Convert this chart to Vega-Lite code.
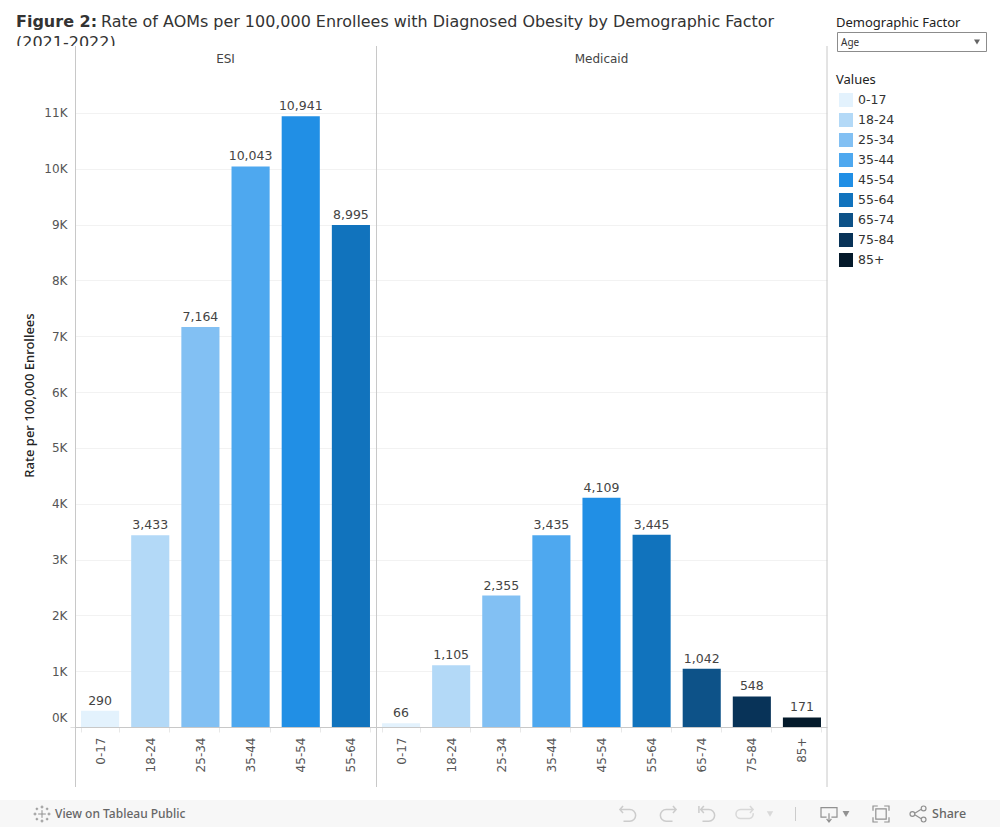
{
"$schema":"https://vega.github.io/schema/vega-lite/v6.json",
"padding":0,
"background":"white",
"bounds":"flush",
"spacing":0,
"config":{"view":{"stroke":null},"font":"DejaVu Sans"},
"datasets":{"rates":[
{"payer":"ESI","age":"0-17","rate":290},{"payer":"ESI","age":"18-24","rate":3433},{"payer":"ESI","age":"25-34","rate":7164},{"payer":"ESI","age":"35-44","rate":10043},{"payer":"ESI","age":"45-54","rate":10941},{"payer":"ESI","age":"55-64","rate":8995},
{"payer":"Medicaid","age":"0-17","rate":66},{"payer":"Medicaid","age":"18-24","rate":1105},{"payer":"Medicaid","age":"25-34","rate":2355},{"payer":"Medicaid","age":"35-44","rate":3435},{"payer":"Medicaid","age":"45-54","rate":4109},{"payer":"Medicaid","age":"55-64","rate":3445},{"payer":"Medicaid","age":"65-74","rate":1042},{"payer":"Medicaid","age":"75-84","rate":548},{"payer":"Medicaid","age":"85+","rate":171}
]},
"vconcat":[
{"width":1000,"height":46,"data":{"values":[{}]},"layer":[
{"mark":{"type":"rect","fill":"#f7f7f7"},"encoding":{"x":{"value":0},"x2":{"value":1000},"y":{"value":800},"y2":{"value":827}}},
{"mark":{"type":"text","align":"left","baseline":"alphabetic","fontSize":16,"fontWeight":"bold","fill":"#333","text":"Figure 2:"},"encoding":{"x":{"value":16},"y":{"value":27}}},
{"mark":{"type":"text","align":"left","baseline":"alphabetic","fontSize":15.95,"fill":"#333","text":"Rate of AOMs per 100,000 Enrollees with Diagnosed Obesity by Demographic Factor"},"encoding":{"x":{"value":101},"y":{"value":27}}},
{"mark":{"type":"text","align":"left","baseline":"alphabetic","fontSize":16,"fill":"#333","clip":true,"text":"(2021-2022)"},"encoding":{"x":{"value":16},"y":{"value":48}}},
{"mark":{"type":"text","align":"left","baseline":"alphabetic","font":"Noto Sans","fontSize":13,"fill":"#222","text":"Demographic Factor"},"encoding":{"x":{"value":836},"y":{"value":27}}},
{"mark":{"type":"rect","fill":"white","stroke":"#8c8c8c","strokeWidth":1},"encoding":{"x":{"value":837.5},"x2":{"value":986.5},"y":{"value":32.5},"y2":{"value":51.5}}},
{"mark":{"type":"text","align":"left","baseline":"alphabetic","font":"Noto Sans","fontSize":10,"fill":"#333","text":"Age"},"encoding":{"x":{"value":841},"y":{"value":46}}},
{"mark":{"type":"point","shape":"triangle-down","filled":true,"fill":"#222","size":36,"strokeWidth":0},"encoding":{"x":{"value":977},"y":{"value":42}}},
{"mark":{"type":"text","align":"left","baseline":"middle","font":"Noto Sans","fontSize":12,"fontWeight":500,"fill":"#666","text":"View on Tableau Public"},"encoding":{"x":{"value":55},"y":{"value":814}}},
{"mark":{"type":"text","align":"left","baseline":"middle","font":"Noto Sans","fontSize":12.5,"fontWeight":500,"fill":"#666","text":"Share"},"encoding":{"x":{"value":932},"y":{"value":814}}},
{"mark":{"type":"point","shape":"M-.45,0H.45M0,-.45V.45M0,-1V-.65M-.17,-.82H.17M0,1V.65M-.17,.82H.17M-1,0H-.65M-.82,-.17V.17M1,0H.65M.82,-.17V.17M.6,-.75V-.45M.45,-.6H.75M-.6,-.75V-.45M-.45,-.6H-.75M.6,.75V.45M.45,.6H.75M-.6,.75V.45M-.45,.6H-.75","size":289,"stroke":"#666","strokeWidth":1,"filled":false},"encoding":{"x":{"value":42},"y":{"value":814}}},
{"mark":{"type":"point","shape":"M-.9,-.5H.2A.65,.65 0 0 1 .2,.8H-.5M-.55,-.9L-.9,-.5L-.55,-.1","size":324,"stroke":"#bbb","strokeWidth":1.5,"filled":false},"encoding":{"x":{"value":628},"y":{"value":814}}},
{"mark":{"type":"point","shape":"M.9,-.5H-.2A.65,.65 0 0 0 -.2,.8H.5M.55,-.9L.9,-.5L.55,-.1","size":324,"stroke":"#bbb","strokeWidth":1.5,"filled":false},"encoding":{"x":{"value":668},"y":{"value":814}}},
{"mark":{"type":"point","shape":"M-.9,-.9V-.1M-.7,-.5H.2A.65,.65 0 0 1 .2,.8H-.5M-.35,-.9L-.7,-.5L-.35,-.1","size":324,"stroke":"#bbb","strokeWidth":1.5,"filled":false},"encoding":{"x":{"value":707},"y":{"value":814}}},
{"mark":{"type":"point","shape":"M.9,-.5H-.5A.5,.5 0 0 0 -.5,.5H.5A.5,.5 0 0 0 .9,-.1M.55,-.9L.9,-.5L.55,-.1","size":324,"stroke":"#ccc","strokeWidth":1.5,"filled":false},"encoding":{"x":{"value":745},"y":{"value":814}}},
{"mark":{"type":"point","shape":"triangle-down","size":40,"filled":true,"fill":"#ccc","strokeWidth":0},"encoding":{"x":{"value":770},"y":{"value":814}}},
{"mark":{"type":"rule","stroke":"#ccc"},"encoding":{"x":{"value":795.5},"y":{"value":807},"y2":{"value":821}}},
{"mark":{"type":"point","shape":"M-.3,.4H-1V-.8H1V.4H.3M0,-.1V1M-.3,.6L0,1L.3,.6","size":256,"stroke":"#666","strokeWidth":1.2,"filled":false},"encoding":{"x":{"value":829},"y":{"value":814}}},
{"mark":{"type":"point","shape":"triangle-down","size":48,"filled":true,"fill":"#666","strokeWidth":0},"encoding":{"x":{"value":846},"y":{"value":814}}},
{"mark":{"type":"point","shape":"M-1,-.4V-1H-.4M.4,-1H1V-.4M1,.4V1H.4M-.4,1H-1V.4M-.65,-.65H.65V.65H-.65Z","size":256,"stroke":"#666","strokeWidth":1.2,"filled":false},"encoding":{"x":{"value":881},"y":{"value":814}}},
{"mark":{"type":"point","shape":"M-.4,-.1L.35,-.55M-.4,.1L.35,.55M-.4,0A.3,.3 0 1 1 -1,0A.3,.3 0 1 1 -.4,0M1,-.7A.3,.3 0 1 1 .4,-.7A.3,.3 0 1 1 1,-.7M1,.7A.3,.3 0 1 1 .4,.7A.3,.3 0 1 1 1,.7","size":256,"stroke":"#666","strokeWidth":1.2,"filled":false},"encoding":{"x":{"value":918},"y":{"value":814}}}
]},
{"hconcat":[
{"width":75,"height":741,"data":{"values":[{}]},"mark":{"type":"point","opacity":0},"encoding":{"x":{"value":38},"y":{"value":38}}},
{"width":301,"height":741,"title":{"text":"ESI","offset":-20,"fontSize":12,"fontWeight":"normal","color":"#444","anchor":"middle"},
"data":{"name":"rates"},"transform":[{"filter":"datum.payer==='ESI'"}],
"encoding":{"x":{"field":"age","type":"nominal","sort":null,"scale":{"paddingInner":0.24,"paddingOuter":0.12},"axis":{"title":null,"orient":"bottom","offset":-60,"labelAngle":-90,"labelFontSize":12,"labelColor":"#555","labelPadding":5,"domainColor":"#c8c8c8","domainWidth":1,"tickColor":"#e8e8e8","tickSize":5,"tickBand":"extent"}},
"y":{"field":"rate","type":"quantitative","scale":{"domain":[-1075,12200],"nice":false,"zero":false},"axis":{"title":"Rate per 100,000 Enrollees","titleFont":"Noto Sans","titleFontSize":13,"titleFontWeight":500,"titleColor":"#222","titlePadding":7,"titleY":349,"values":[0,1000,2000,3000,4000,5000,6000,7000,8000,9000,10000,11000],"labelExpr":"(datum.value/1000)+'K'","labelFontSize":12,"labelColor":"#555","labelPadding":3,"labelOffset":{"condition":{"test":"datum.value===0","value":-9},"value":0},"domain":false,"tickSize":5,"tickColor":{"condition":{"test":"datum.value===0","value":"#ddd"},"value":"transparent"},"grid":true,"gridColor":"#f2f2f2"}}},
"layer":[
{"mark":{"type":"bar"},"encoding":{"color":{"field":"age","type":"nominal","scale":{"domain":["0-17","18-24","25-34","35-44","45-54","55-64","65-74","75-84","85+"],"range":["#e3f2fd","#b3d9f7","#82c0f3","#4ea8ef","#218fe5","#1173bd","#0d5288","#083358","#041a2b"]},
"legend":{"title":"Values","orient":"none","legendX":836,"legendY":74,"titleFontSize":13,"titleFont":"Noto Sans","titleFontWeight":"normal","titleColor":"#222","titlePadding":3,"labelFontSize":12.5,"labelColor":"#333","symbolType":"square","symbolSize":196,"symbolStrokeWidth":0,"symbolOffset":3,"clipHeight":20,"rowPadding":0,"labelOffset":5,"symbolOpacity":1}}}},
{"mark":{"type":"text","baseline":"bottom","dy":-3,"fontSize":12.5,"fill":"#444"},"encoding":{"text":{"field":"rate","format":","}}},
{"data":{"values":[{}]},"mark":{"type":"rule","color":"#c8c8c8"},"encoding":{"x":{"value":0.5},"y":null}},
{"data":{"values":[{}]},"mark":{"type":"rule","color":"#c8c8c8"},"encoding":{"x":null,"y":{"datum":11824}}}
]},
{"width":451,"height":741,"title":{"text":"Medicaid","offset":-20,"fontSize":12,"fontWeight":"normal","color":"#444","anchor":"middle"},
"data":{"name":"rates"},"transform":[{"filter":"datum.payer==='Medicaid'"}],
"encoding":{"x":{"field":"age","type":"nominal","sort":null,"scale":{"paddingInner":0.24,"paddingOuter":0.12},"axis":{"title":null,"orient":"bottom","offset":-60,"labelAngle":-90,"labelFontSize":12,"labelColor":"#555","labelPadding":5,"domainColor":"#c8c8c8","domainWidth":1,"tickColor":"#e8e8e8","tickSize":5,"tickBand":"extent"}},
"y":{"field":"rate","type":"quantitative","scale":{"domain":[-1075,12200],"nice":false,"zero":false},"axis":{"title":null,"values":[0,1000,2000,3000,4000,5000,6000,7000,8000,9000,10000,11000],"labels":false,"ticks":false,"domain":false,"grid":true,"gridColor":"#f2f2f2"}}},
"layer":[
{"mark":{"type":"bar"},"encoding":{"color":{"field":"age","type":"nominal","scale":{"domain":["0-17","18-24","25-34","35-44","45-54","55-64","65-74","75-84","85+"],"range":["#e3f2fd","#b3d9f7","#82c0f3","#4ea8ef","#218fe5","#1173bd","#0d5288","#083358","#041a2b"]},"legend":null}}},
{"mark":{"type":"text","baseline":"bottom","dy":-3,"fontSize":12.5,"fill":"#444"},"encoding":{"text":{"field":"rate","format":","}}},
{"data":{"values":[{}]},"mark":{"type":"rule","color":"#c8c8c8"},"encoding":{"x":{"value":0.5},"y":null}},
{"data":{"values":[{}]},"mark":{"type":"rule","color":"#c8c8c8"},"encoding":{"x":{"value":"width"},"y":null}},
{"data":{"values":[{}]},"mark":{"type":"rule","color":"#c8c8c8"},"encoding":{"x":null,"y":{"datum":11824}}}
]}
],"bounds":"flush","spacing":0}
]
}
